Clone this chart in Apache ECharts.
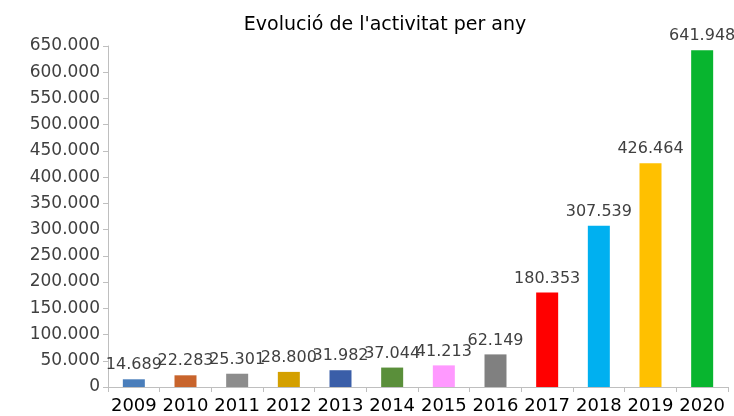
<!DOCTYPE html>
<html>
<head>
<meta charset="utf-8">
<script src="https://cdn.jsdelivr.net/npm/echarts@6/dist/echarts.min.js"></script>
<style>
  html, body { margin: 0; padding: 0; background: #fff; }
  #chart { width: 734px; height: 416px; }
</style>
</head>
<body>
<div id="chart"></div>
<script>
// dades del gràfic
const years = ['2009', '2010', '2011', '2012', '2013', '2014', '2015', '2016', '2017', '2018', '2019', '2020']
const activitat = [14689, 22283, 25301, 28800, 31982, 37044, 41213, 62149, 180353, 307539, 426464, 641948]
const barColors = ['#4a7ebb', '#c8642c', '#8c8c8c', '#d4a000', '#3a5ea8', '#5a8f3a', '#ff99ff', '#808080', '#ff0000', '#00b0f0', '#ffc000', '#08b52f']

// format amb punt de milers
const fmt = v => String(v).replace(/\B(?=(\d{3})+(?!\d))/g, '.')

const chart = echarts.init(document.getElementById('chart'))
chart.setOption({
  animation: false,
  title: {
    text: "Evolució de l'activitat per any",
    left: 380,
    top: 11,
    textAlign: 'center',
    textStyle: { fontFamily: 'DejaVu Sans', fontSize: 19, fontWeight: 'normal', color: '#000' }
  },
  grid: { left: 108, right: 6, top: 46, bottom: 29 },
  xAxis: {
    type: 'category',
    data: years,
    axisLine: { lineStyle: { color: '#bfbfbf' } },
    axisTick: { show: true, length: 5, lineStyle: { color: '#bfbfbf' } },
    axisLabel: { fontFamily: 'DejaVu Sans', fontSize: 18, color: '#000', margin: 10, interval: 0 }
  },
  yAxis: {
    type: 'value',
    min: 0,
    max: 650000,
    interval: 50000,
    splitLine: { show: false },
    axisLine: { show: true, lineStyle: { color: '#bfbfbf' } },
    axisTick: { show: true, length: 5, lineStyle: { color: '#bfbfbf' } },
    axisLabel: { fontFamily: 'DejaVu Sans', fontSize: 17, color: '#404040', margin: 8, formatter: fmt }
  },
  series: [{
    type: 'bar',
    barWidth: 22,
    data: activitat.map((v, i) => ({ value: v, itemStyle: { color: barColors[i] } })),
    label: {
      show: true,
      position: 'top',
      distance: 6,
      fontFamily: 'DejaVu Sans',
      fontSize: 16,
      color: '#404040',
      formatter: p => fmt(p.value)
    }
  }]
})
</script>
</body>
</html>
